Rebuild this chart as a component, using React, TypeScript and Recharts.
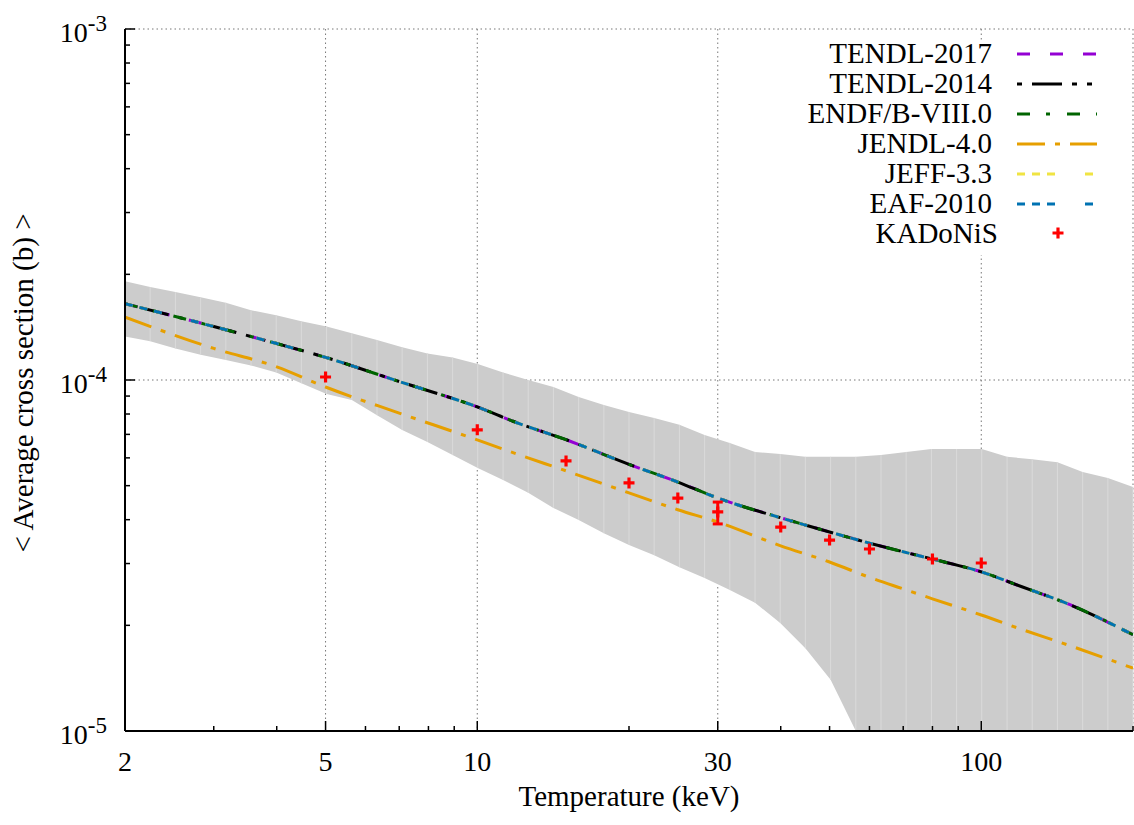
import React from "react";
import {
  ComposedChart,
  Area,
  Line,
  Scatter,
  XAxis,
  YAxis,
  CartesianGrid,
  Legend,
  ErrorBar,
  ReferenceLine,
} from "recharts";

const FONT = "Liberation Serif";

// temperature grid of the uncertainty band (keV)
const bandT = [
  2, 2.244, 2.518, 2.825, 3.17, 3.557, 3.991, 4.477, 5.024, 5.637, 6.325, 7.096, 7.962, 8.934,
  10.02, 11.25, 12.62, 14.16, 15.89, 17.83, 20, 22.44, 25.18, 28.25, 31.7, 35.57, 39.91, 44.77,
  50.24, 56.37, 63.25, 70.96, 79.62, 89.34, 100.2, 112.5, 126.2, 141.6, 158.9, 178.3, 200,
];
const bandHigh = [
  1.91e-4, 1.84e-4, 1.78e-4, 1.72e-4, 1.66e-4, 1.58e-4, 1.53e-4, 1.47e-4, 1.42e-4, 1.36e-4,
  1.3e-4, 1.24e-4, 1.19e-4, 1.16e-4, 1.11e-4, 1.05e-4, 1.0e-4, 9.55e-5, 8.95e-5, 8.49e-5,
  8.11e-5, 7.8e-5, 7.45e-5, 6.97e-5, 6.62e-5, 6.24e-5, 6.15e-5, 6.04e-5, 6.04e-5, 6.04e-5,
  6.11e-5, 6.24e-5, 6.36e-5, 6.36e-5, 6.36e-5, 6.04e-5, 5.95e-5, 5.83e-5, 5.47e-5, 5.26e-5,
  4.96e-5,
];
const bandLow = [
  1.33e-4, 1.29e-4, 1.23e-4, 1.18e-4, 1.14e-4, 1.1e-4, 1.05e-4, 9.79e-5, 9.12e-5, 8.77e-5,
  7.94e-5, 7.2e-5, 6.66e-5, 6.11e-5, 5.61e-5, 5.19e-5, 4.77e-5, 4.32e-5, 3.99e-5, 3.66e-5,
  3.39e-5, 3.17e-5, 2.93e-5, 2.73e-5, 2.52e-5, 2.32e-5, 2.03e-5, 1.72e-5, 1.4e-5, 1.0e-5,
  4e-6, 2e-6, 1e-6, 1e-6, 1e-6, 1e-6, 1e-6, 1e-6, 1e-6, 1e-6, 1e-6,
];

// evaluated libraries (keV grid)
const curveT = [2, 3, 4, 5, 7, 10, 12, 15, 20, 25, 30, 40, 50, 60, 70, 80, 100, 120, 150, 200];
// TENDL / ENDF / JEFF / EAF lie on top of each other in the plot
const tendl2017 = [
  1.65e-4, 1.42e-4, 1.27e-4, 1.16e-4, 9.9e-5, 8.38e-5, 7.55e-5, 6.76e-5, 5.75e-5, 5.12e-5,
  4.61e-5, 4.05e-5, 3.69e-5, 3.43e-5, 3.24e-5, 3.09e-5, 2.84e-5, 2.58e-5, 2.29e-5, 1.88e-5,
];
const tendl2014 = tendl2017;
const endf8 = tendl2017;
const jeff33 = tendl2017;
const eaf2010 = tendl2017;
const jendl4 = [
  1.51e-4, 1.23e-4, 1.09e-4, 9.55e-5, 8.05e-5, 6.75e-5, 6.15e-5, 5.51e-5, 4.77e-5, 4.27e-5,
  3.94e-5, 3.37e-5, 3.03e-5, 2.74e-5, 2.54e-5, 2.38e-5, 2.14e-5, 1.95e-5, 1.75e-5, 1.51e-5,
];

// KADoNiS MACS values
const kadT = [5, 10, 15, 20, 25, 30, 40, 50, 60, 80, 100];
const kadValues = [1.02e-4, 7.21e-5, 5.88e-5, 5.09e-5, 4.61e-5, 4.21e-5, 3.81e-5, 3.5e-5, 3.3e-5, 3.09e-5, 3.01e-5];
const kadErrLow = [0, 0, 0, 0, 0, 3.2e-6, 0, 0, 0, 0, 0];
const kadErrHigh = [0, 0, 0, 0, 0, 2.8e-6, 0, 0, 0, 0, 0];

const xTicks = [2, 3, 4, 5, 6, 7, 8, 9, 10, 20, 30, 40, 50, 60, 70, 80, 90, 100, 200];
const xLabels = [2, 5, 10, 30, 100];
const xGrid = [5, 10, 30, 100];
const yTicks = [
  1e-5, 2e-5, 3e-5, 4e-5, 5e-5, 6e-5, 7e-5, 8e-5, 9e-5, 1e-4, 2e-4, 3e-4, 4e-4, 5e-4, 6e-4, 7e-4,
  8e-4, 9e-4, 1e-3,
];
const yGrid = [1e-4];

const series = [
  { name: "TENDL-2017", color: "#9400d3", dash: "13 20", values: tendl2017 },
  { name: "TENDL-2014", color: "#000000", dash: "5 10 30 10 5 10", values: tendl2014 },
  { name: "ENDF/B-VIII.0", color: "#006400", dash: "13 16 4 17", values: endf8 },
  { name: "JENDL-4.0", color: "#e69f00", dash: "28 10 5 10", values: jendl4 },
  { name: "JEFF-3.3", color: "#f0e442", dash: "8 7 8 7 8 30", values: jeff33 },
  { name: "EAF-2010", color: "#0072b2", dash: "8 7 8 7 8 30", values: eaf2010 },
];

const bandData = bandT.map((T, i) => ({ T, band: [bandLow[i], bandHigh[i]] }));
const kadData = kadT.map((T, i) => ({
  T,
  v: kadValues[i],
  err: kadErrLow[i] || kadErrHigh[i] ? [kadErrLow[i], kadErrHigh[i]] : null,
}));

const isDecade = (v: number) => Math.abs(Math.log10(v) - Math.round(Math.log10(v))) < 1e-6;

const textStyle = { fontFamily: FONT };

const BottomTick = (props: any) => {
  const { x, y, payload } = props;
  const v = payload.value;
  const major = xLabels.includes(v);
  return (
    <g>
      <line x1={x} x2={x} y1={y} y2={y - (major ? 10 : 5)} stroke="#000" strokeWidth={1.5} />
      {major && (
        <text x={x} y={y + 40} textAnchor="middle" fontSize={28} style={textStyle} fill="#000">
          {v}
        </text>
      )}
    </g>
  );
};

const TopTick = (props: any) => {
  const { x, y, payload } = props;
  const major = xLabels.includes(payload.value);
  return <line x1={x} x2={x} y1={y} y2={y + (major ? 10 : 5)} stroke="#000" strokeWidth={1.5} />;
};

const LeftTick = (props: any) => {
  const { x, y, payload } = props;
  const v = payload.value;
  const major = isDecade(v);
  return (
    <g>
      <line x1={x} x2={x + (major ? 10 : 5)} y1={y} y2={y} stroke="#000" strokeWidth={1.5} />
      {major && (
        <text x={x - 18} y={y + 13} textAnchor="end" fontSize={28} style={textStyle} fill="#000">
          10
          <tspan dy={-11} fontSize={23}>
            {String(Math.round(Math.log10(v)))}
          </tspan>
        </text>
      )}
    </g>
  );
};

const RightTick = (props: any) => {
  const { x, y, payload } = props;
  const major = isDecade(payload.value);
  return <line x1={x} x2={x - (major ? 10 : 5)} y1={y} y2={y} stroke="#000" strokeWidth={1.5} />;
};

const Plus = (props: any) => {
  const { cx, cy } = props;
  if (cx == null || cy == null) return null;
  return (
    <path
      d={`M${cx - 5.5},${cy}h11M${cx},${cy - 5.5}v11`}
      stroke="#ff0000"
      strokeWidth={3.2}
      fill="none"
    />
  );
};

const renderLegend = () => (
  <svg
    width={325}
    height={215}
    style={{ display: "block", background: "#fff", overflow: "visible" }}
  >
    {series.map((s, i) => (
      <g key={s.name}>
        <text x={192} y={23 + i * 30} textAnchor="end" fontSize={29} style={textStyle} fill="#000">
          {s.name}
        </text>
        <line
          x1={217}
          x2={297}
          y1={14 + i * 30}
          y2={14 + i * 30}
          stroke={s.color}
          strokeWidth={3}
          strokeDasharray={s.dash}
        />
      </g>
    ))}
    <text x={198} y={203} textAnchor="end" fontSize={29} style={textStyle} fill="#000">
      KADoNiS
    </text>
    <Plus cx={258} cy={193} />
  </svg>
);

const XTitle = (props: any) => {
  const { x, y, width } = props.viewBox;
  return (
    <text x={x + width / 2} y={y + 75} textAnchor="middle" fontSize={29} style={textStyle} fill="#000">
      Temperature (keV)
    </text>
  );
};

const YTitle = (props: any) => {
  const { x, y, height } = props.viewBox;
  const cx = x + 33;
  const cy = y + height / 2 + 3;
  return (
    <text
      x={cx}
      y={cy}
      transform={`rotate(-90, ${cx}, ${cy})`}
      textAnchor="middle"
      fontSize={29}
      style={textStyle}
      fill="#000"
    >
      {"< Average cross section (b) >"}
    </text>
  );
};

export default function App() {
  return (
    <div
      style={{
        position: "absolute",
        left: 0,
        top: 0,
        width: 1134,
        height: 825,
        background: "#fff",
        fontFamily: FONT,
      }}
    >
      <ComposedChart
        width={1134}
        height={825}
        data={bandData}
        margin={{ top: 29, right: 1, bottom: 0, left: 0 }}
        style={{ fontFamily: FONT }}
      >
        <XAxis xAxisId="grid" dataKey="T" type="number" scale="log" domain={[2, 200]} allowDataOverflow ticks={xGrid} hide />
        <YAxis yAxisId="grid" type="number" scale="log" domain={[1e-5, 1e-3]} allowDataOverflow ticks={yGrid} hide />
        <CartesianGrid
          xAxisId="grid"
          yAxisId="grid"
          stroke="#777"
          strokeWidth={1}
          strokeDasharray="1.5 3"
        />
        <XAxis
          dataKey="T"
          type="number"
          scale="log"
          domain={[2, 200]}
          allowDataOverflow
          ticks={xTicks}
          interval={0}
          tick={<BottomTick />}
          tickLine={false}
          tickSize={0}
          tickMargin={0}
          height={94}
          axisLine={{ stroke: "#000", strokeWidth: 2 }}
          label={<XTitle />}
        />
        <XAxis
          xAxisId="top"
          orientation="top"
          dataKey="T"
          type="number"
          scale="log"
          domain={[2, 200]}
          allowDataOverflow
          ticks={xTicks}
          interval={0}
          tick={<TopTick />}
          tickLine={false}
          tickSize={0}
          tickMargin={0}
          height={0}
          axisLine={{ stroke: "#000", strokeWidth: 2 }}
        />
        <YAxis
          type="number"
          scale="log"
          domain={[1e-5, 1e-3]}
          allowDataOverflow
          ticks={yTicks}
          interval={0}
          tick={<LeftTick />}
          tickLine={false}
          tickSize={0}
          tickMargin={0}
          width={125}
          axisLine={{ stroke: "#000", strokeWidth: 2 }}
          label={<YTitle />}
        />
        <YAxis
          yAxisId="right"
          orientation="right"
          type="number"
          scale="log"
          domain={[1e-5, 1e-3]}
          allowDataOverflow
          ticks={yTicks}
          interval={0}
          tick={<RightTick />}
          tickLine={false}
          tickSize={0}
          tickMargin={0}
          width={0}
          axisLine={{ stroke: "#000", strokeWidth: 2 }}
        />
        <Area
          dataKey="band"
          type="linear"
          fill="#cccccc"
          fillOpacity={1}
          stroke="none"
          isAnimationActive={false}
        />
        {bandData.map((d) => (
          <ReferenceLine
            key={d.T}
            segment={[
              { x: d.T, y: Math.max(d.band[0], 1e-5) },
              { x: d.T, y: d.band[1] },
            ]}
            stroke="#dadada"
            strokeWidth={1}
            ifOverflow="visible"
            zIndex={150}
          />
        ))}
        {series.map((s) => (
          <Line
            key={s.name}
            name={s.name}
            data={curveT.map((T, i) => ({ T, v: s.values[i] }))}
            dataKey="v"
            type="monotone"
            stroke={s.color}
            strokeWidth={3}
            strokeDasharray={s.dash}
            dot={false}
            activeDot={false}
            isAnimationActive={false}
          />
        ))}
        <Scatter
          name="KADoNiS"
          data={kadData}
          dataKey="v"
          shape={<Plus />}
          isAnimationActive={false}
        >
          <ErrorBar
            dataKey="err"
            direction="y"
            width={5}
            stroke="#ff0000"
            strokeWidth={3}
            isAnimationActive={false}
          />
        </Scatter>
        <Legend
          layout="vertical"
          align="center"
          verticalAlign="middle"
          content={renderLegend}
          wrapperStyle={{ left: 800, top: 40, width: 325, height: 215, overflow: "visible" }}
        />
      </ComposedChart>
    </div>
  );
}
